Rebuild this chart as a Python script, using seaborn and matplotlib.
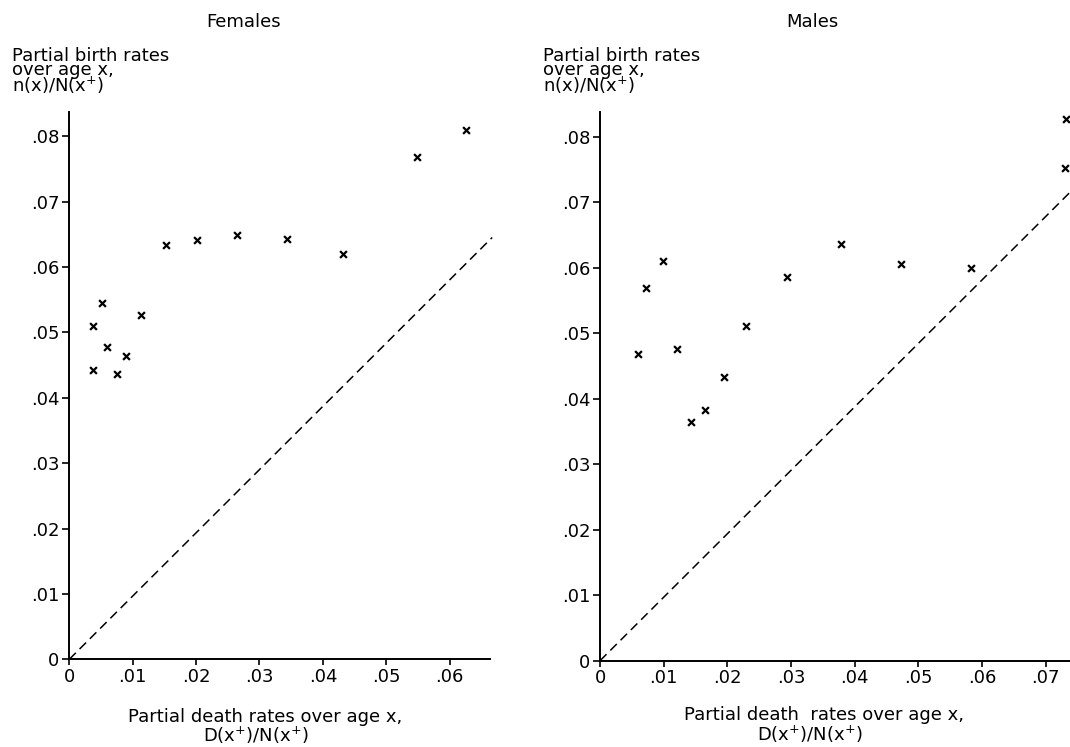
import matplotlib
matplotlib.use("Agg")
import matplotlib.pyplot as plt
import seaborn as sns
import pandas as pd

# ---- data ----
female_death = [0.0038, 0.0038, 0.0052, 0.0059, 0.0075, 0.0090, 0.0113, 0.0152,
                0.0202, 0.0264, 0.0344, 0.0431, 0.0548, 0.0625]
female_birth = [0.0442, 0.0510, 0.0545, 0.0477, 0.0437, 0.0464, 0.0527, 0.0633,
                0.0641, 0.0649, 0.0643, 0.0620, 0.0768, 0.0810]
male_death = [0.0059, 0.0073, 0.0099, 0.0121, 0.0143, 0.0165, 0.0195, 0.0229,
              0.0294, 0.0379, 0.0472, 0.0583, 0.0731, 0.0732]
male_birth = [0.0468, 0.0569, 0.0610, 0.0476, 0.0365, 0.0383, 0.0434, 0.0511,
              0.0586, 0.0636, 0.0606, 0.0600, 0.0753, 0.0828]

# dashed reference lines (start, end)
female_diag_x = [0.0, 0.0667]
female_diag_y = [0.0, 0.0645]
male_diag_x = [0.0, 0.0745]
male_diag_y = [0.0, 0.0722]

y_ticks = [0, 0.01, 0.02, 0.03, 0.04, 0.05, 0.06, 0.07, 0.08]
y_tick_labels = ["0", ".01", ".02", ".03", ".04", ".05", ".06", ".07", ".08"]
female_x_ticks = [0, 0.01, 0.02, 0.03, 0.04, 0.05, 0.06]
female_x_tick_labels = ["0", ".01", ".02", ".03", ".04", ".05", ".06"]
male_x_ticks = [0, 0.01, 0.02, 0.03, 0.04, 0.05, 0.06, 0.07]
male_x_tick_labels = ["0", ".01", ".02", ".03", ".04", ".05", ".06", ".07"]

titles = ["Females", "Males"]
ylabel_text = "Partial birth rates\nover age x,\n" + r"n(x)/N(x$^{+}$)"
female_xlabel = ["Partial death rates over age x,", r"D(x$^{+}$)/N(x$^{+}$)"]
male_xlabel = ["Partial death  rates over age x,", r"D(x$^{+}$)/N(x$^{+}$)"]

sns.set_theme(style="ticks")
plt.rcParams["font.family"] = ["DejaVu Sans"]
plt.rcParams["mathtext.fontset"] = "dejavusans"
plt.rcParams["axes.edgecolor"] = "black"
plt.rcParams["axes.linewidth"] = 1.4
plt.rcParams["text.color"] = "black"
plt.rcParams["xtick.color"] = "black"
plt.rcParams["ytick.color"] = "black"
plt.rcParams["xtick.labelcolor"] = "black"
plt.rcParams["ytick.labelcolor"] = "black"

W, H = 1070, 747
fig = plt.figure(figsize=(W / 100, H / 100), dpi=100)
fig.patch.set_facecolor("white")


def fx(px):
    return px / W


def fy(py):
    return 1 - py / H


axL = fig.add_axes([fx(69.3), fy(659.3), fx(490 - 69.3), (659.3 - 112) / H])
axR = fig.add_axes([fx(600), fy(660.7), fx(1070 - 600) + 0.01, (660.7 - 112) / H])

fdf = pd.DataFrame({"death": female_death, "birth": female_birth})
mdf = pd.DataFrame({"death": male_death, "birth": male_birth})

FS = 13
for ax, df, dx, dy, xt, xtl, xmax, ymax in [
    (axL, fdf, female_diag_x, female_diag_y, female_x_ticks, female_x_tick_labels, 0.06636, 0.08369),
    (axR, mdf, male_diag_x, male_diag_y, male_x_ticks, male_x_tick_labels, 0.0755, 0.0838),
]:
    sns.lineplot(x=dx, y=dy, ax=ax, color="black", linewidth=1.1,
                 linestyle=(0, (6, 3.5)), clip_on=False)
    sns.scatterplot(data=df, x="death", y="birth", ax=ax, marker="x",
                    color="black", s=24, linewidth=1.6, clip_on=False)
    ax.set_xlim(0, xmax)
    ax.set_ylim(0, ymax)
    ax.set_xticks(xt)
    ax.set_xticklabels(xtl, fontsize=FS, color="black")
    ax.set_yticks(y_ticks)
    ax.set_yticklabels(y_tick_labels, fontsize=FS, color="black")
    ax.set_xlabel("")
    ax.set_ylabel("")
    ax.tick_params(axis="y", direction="out", length=5, width=1.2, pad=2, colors="black")
    ax.tick_params(axis="x", direction="out", length=4, width=1.2, pad=2, colors="black")
    ax.set_facecolor("white")
    sns.despine(ax=ax)

# titles
fig.text(fx(244), fy(22), titles[0], ha="center", va="center", fontsize=FS)
fig.text(fx(812), fy(22), titles[1], ha="center", va="center", fontsize=FS)

# y labels (three-line block above each y axis)
for x0 in (12, 543):
    fig.text(fx(x0), fy(47), ylabel_text, ha="left", va="top", fontsize=13,
             linespacing=0.72)

# x labels
fig.text(fx(265), fy(722), female_xlabel[0], ha="center", va="baseline", fontsize=FS)
fig.text(fx(256), fy(742), female_xlabel[1], ha="center", va="baseline", fontsize=FS)
fig.text(fx(824), fy(720), male_xlabel[0], ha="center", va="baseline", fontsize=FS)
fig.text(fx(810), fy(741), male_xlabel[1], ha="center", va="baseline", fontsize=FS)

fig.savefig("out.png", dpi=100, facecolor="white")
